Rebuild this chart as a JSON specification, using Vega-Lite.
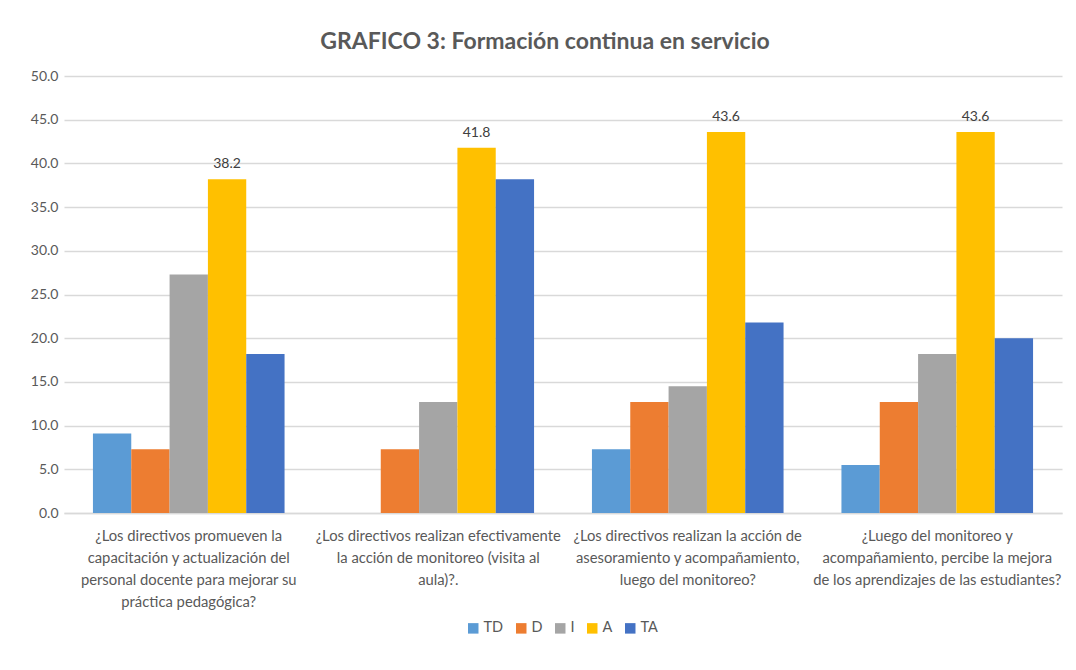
{
  "$schema": "https://vega.github.io/schema/vega-lite/v6.json",
  "width": 998,
  "height": 437,
  "autosize": {"type": "none"},
  "padding": {"left": 64, "top": 76, "right": 14, "bottom": 157},
  "background": "white",
  "title": {
    "text": "GRAFICO 3: Formación continua en servicio",
    "anchor": "middle",
    "dx": -18,
    "offset": 15,
    "font": "Lato",
    "fontSize": 23,
    "fontWeight": "bold",
    "color": "#595959"
  },
  "config": {
    "view": {"stroke": null},
    "font": "Lato"
  },
  "data": {
    "values": [
      {"pregunta": "¿Los directivos promueven la|capacitación y actualización del|personal docente para mejorar su|práctica pedagógica?", "serie": "TD", "valor": 9.1},
      {"pregunta": "¿Los directivos promueven la|capacitación y actualización del|personal docente para mejorar su|práctica pedagógica?", "serie": "D", "valor": 7.3},
      {"pregunta": "¿Los directivos promueven la|capacitación y actualización del|personal docente para mejorar su|práctica pedagógica?", "serie": "I", "valor": 27.3},
      {"pregunta": "¿Los directivos promueven la|capacitación y actualización del|personal docente para mejorar su|práctica pedagógica?", "serie": "A", "valor": 38.2},
      {"pregunta": "¿Los directivos promueven la|capacitación y actualización del|personal docente para mejorar su|práctica pedagógica?", "serie": "TA", "valor": 18.2},
      {"pregunta": "¿Los directivos realizan efectivamente|la acción de monitoreo (visita al|aula)?.", "serie": "TD", "valor": 0},
      {"pregunta": "¿Los directivos realizan efectivamente|la acción de monitoreo (visita al|aula)?.", "serie": "D", "valor": 7.3},
      {"pregunta": "¿Los directivos realizan efectivamente|la acción de monitoreo (visita al|aula)?.", "serie": "I", "valor": 12.7},
      {"pregunta": "¿Los directivos realizan efectivamente|la acción de monitoreo (visita al|aula)?.", "serie": "A", "valor": 41.8},
      {"pregunta": "¿Los directivos realizan efectivamente|la acción de monitoreo (visita al|aula)?.", "serie": "TA", "valor": 38.2},
      {"pregunta": "¿Los directivos realizan la acción de|asesoramiento y acompañamiento,|luego del monitoreo?", "serie": "TD", "valor": 7.3},
      {"pregunta": "¿Los directivos realizan la acción de|asesoramiento y acompañamiento,|luego del monitoreo?", "serie": "D", "valor": 12.7},
      {"pregunta": "¿Los directivos realizan la acción de|asesoramiento y acompañamiento,|luego del monitoreo?", "serie": "I", "valor": 14.5},
      {"pregunta": "¿Los directivos realizan la acción de|asesoramiento y acompañamiento,|luego del monitoreo?", "serie": "A", "valor": 43.6},
      {"pregunta": "¿Los directivos realizan la acción de|asesoramiento y acompañamiento,|luego del monitoreo?", "serie": "TA", "valor": 21.8},
      {"pregunta": "¿Luego del monitoreo y|acompañamiento, percibe la mejora|de los aprendizajes de las estudiantes?", "serie": "TD", "valor": 5.5},
      {"pregunta": "¿Luego del monitoreo y|acompañamiento, percibe la mejora|de los aprendizajes de las estudiantes?", "serie": "D", "valor": 12.7},
      {"pregunta": "¿Luego del monitoreo y|acompañamiento, percibe la mejora|de los aprendizajes de las estudiantes?", "serie": "I", "valor": 18.2},
      {"pregunta": "¿Luego del monitoreo y|acompañamiento, percibe la mejora|de los aprendizajes de las estudiantes?", "serie": "A", "valor": 43.6},
      {"pregunta": "¿Luego del monitoreo y|acompañamiento, percibe la mejora|de los aprendizajes de las estudiantes?", "serie": "TA", "valor": 20.0}
    ]
  },
  "encoding": {
    "x": {
      "field": "pregunta",
      "type": "nominal",
      "sort": null,
      "scale": {"paddingInner": 0.232, "paddingOuter": 0.116},
      "axis": {
        "title": null,
        "labelAngle": 0,
        "labelExpr": "split(datum.value, '|')",
        "labelFont": "Lato",
        "labelFontSize": 14.8,
        "labelColor": "#595959",
        "labelLineHeight": 22,
        "labelBaseline": "top",
        "labelPadding": 15,
        "labelLimit": 0,
        "ticks": false,
        "domainColor": "#D9D9D9",
        "domainWidth": 1.5
      }
    },
    "xOffset": {
      "field": "serie",
      "type": "nominal",
      "sort": ["TD", "D", "I", "A", "TA"],
      "scale": {"paddingInner": 0, "paddingOuter": 0}
    },
    "y": {
      "field": "valor",
      "type": "quantitative",
      "scale": {"domain": [0, 50], "nice": false},
      "axis": {
        "title": null,
        "values": [0, 5, 10, 15, 20, 25, 30, 35, 40, 45, 50],
        "format": ".1f",
        "labelFont": "Lato",
        "labelFontSize": 14,
        "labelColor": "#595959",
        "labelPadding": 6,
        "ticks": false,
        "domain": false,
        "gridColor": "#D9D9D9",
        "gridWidth": 1.3
      }
    }
  },
  "layer": [
    {
      "mark": {"type": "bar"},
      "encoding": {
        "color": {
          "field": "serie",
          "type": "nominal",
          "sort": ["TD", "D", "I", "A", "TA"],
          "scale": {
            "domain": ["TD", "D", "I", "A", "TA"],
            "range": ["#5B9BD5", "#ED7D31", "#A5A5A5", "#FFC000", "#4472C4"]
          },
          "legend": {
            "title": null,
            "orient": "none",
            "direction": "horizontal",
            "legendX": 402,
            "legendY": 545,
            "symbolType": "square",
            "symbolSize": 110,
            "symbolStrokeWidth": 0,
            "labelFont": "Lato",
            "labelFontSize": 14.5,
            "labelColor": "#595959",
            "columnPadding": 10,
            "labelOffset": 3
          }
        }
      }
    },
    {
      "transform": [{"filter": "datum.serie == 'A'"}],
      "mark": {
        "type": "text",
        "baseline": "bottom",
        "dy": -8,
        "font": "Lato",
        "fontSize": 14,
        "color": "#404040"
      },
      "encoding": {
        "text": {"field": "valor", "type": "quantitative", "format": ".1f"}
      }
    }
  ]
}
